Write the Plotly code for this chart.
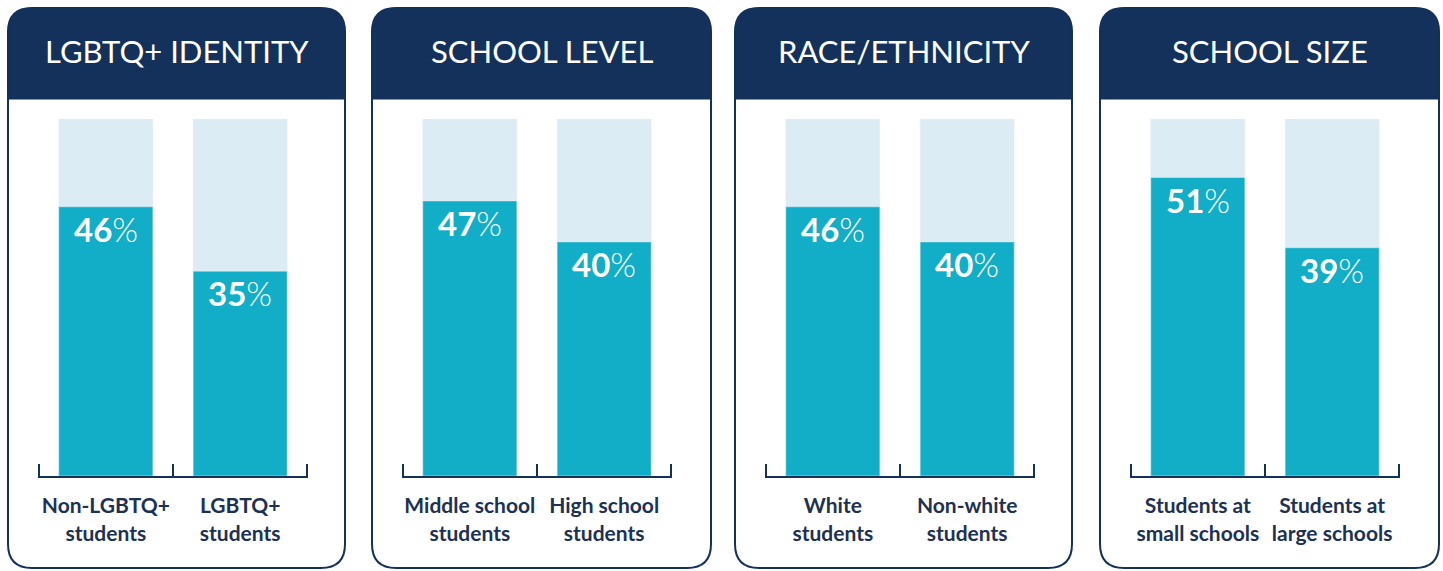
import plotly.graph_objects as go

W, H = 1443, 571

titles = ["LGBTQ+ IDENTITY", "SCHOOL LEVEL", "RACE/ETHNICITY", "SCHOOL SIZE"]
categories = [
    ["Non-LGBTQ+<br>students", "LGBTQ+<br>students"],
    ["Middle school<br>students", "High school<br>students"],
    ["White<br>students", "Non-white<br>students"],
    ["Students at<br>small schools", "Students at<br>large schools"],
]
values = [[46, 35], [47, 40], [46, 40], [51, 39]]
track_max = 61

NAVY = "#13315a"
LABEL = "#1d3152"
TEAL = "#12adc6"
TRACK = "#dcecf4"
FONT = "Lato"

# panel geometry in pixels (left, right), top/bottom shared
panel_x = [(8, 345), (372, 711), (735, 1072), (1100, 1439)]
panel_top, panel_bot, head_bot = 8, 568, 99
axis_bot, axis_top = 476, 119


def px(x):
    return x / W


def py(y):
    return 1 - y / H


def rounded_path(x0, x1, y0, y1, r, bottom=True):
    """Rounded rect path in paper coords (pixel input, y down)."""
    pts = []
    pts.append(f"M {px(x0 + r)},{py(y0)}")
    pts.append(f"L {px(x1 - r)},{py(y0)}")
    pts.append(f"Q {px(x1)},{py(y0)} {px(x1)},{py(y0 + r)}")
    if bottom:
        pts.append(f"L {px(x1)},{py(y1 - r)}")
        pts.append(f"Q {px(x1)},{py(y1)} {px(x1 - r)},{py(y1)}")
        pts.append(f"L {px(x0 + r)},{py(y1)}")
        pts.append(f"Q {px(x0)},{py(y1)} {px(x0)},{py(y1 - r)}")
    else:
        pts.append(f"L {px(x1)},{py(y1)}")
        pts.append(f"L {px(x0)},{py(y1)}")
    pts.append(f"L {px(x0)},{py(y0 + r)}")
    pts.append(f"Q {px(x0)},{py(y0)} {px(x0 + r)},{py(y0)}")
    return " ".join(pts) + " Z"


fig = go.Figure()
shapes, annotations = [], []

for i in range(4):
    n = i + 1
    xa = "x" if n == 1 else f"x{n}"
    ya = "y" if n == 1 else f"y{n}"
    x0, x1 = panel_x[i]
    pos = list(range(len(categories[i])))

    fig.add_trace(go.Bar(x=pos, y=[track_max] * len(pos), marker_color=TRACK,
                         width=0.7, xaxis=xa, yaxis=ya, hoverinfo="skip"))
    fig.add_trace(go.Bar(x=pos, y=values[i], marker_color=TEAL,
                         width=0.7, xaxis=xa, yaxis=ya))

    for p, v in zip(pos, values[i]):
        annotations.append(dict(
            x=p, y=v, xref=xa, yref=ya, yanchor="top", yshift=0,
            text=f"<b>{v}</b>%", showarrow=False,
            font=dict(family=FONT, size=33, color="white", weight=300)))

    shapes.append(dict(type="path", xref="paper", yref="paper",
                       path=rounded_path(x0, x1, panel_top, panel_bot, 24),
                       line=dict(color=NAVY, width=2), fillcolor="white", layer="below"))
    shapes.append(dict(type="path", xref="paper", yref="paper",
                       path=rounded_path(x0, x1, panel_top, head_bot, 24, bottom=False),
                       line=dict(color=NAVY, width=1), fillcolor=NAVY, layer="below"))
    annotations.append(dict(
        x=px((x0 + x1) / 2), y=py((panel_top + head_bot) / 2 - 2), xref="paper", yref="paper",
        text=titles[i], showarrow=False, xanchor="center", yanchor="middle",
        font=dict(family=FONT, size=31, color="white")))

    # category boundaries get the small upward ticks
    bounds = [p - 0.5 for p in pos] + [pos[-1] + 0.5]
    ax0 = x0 + 30
    fig.update_layout({
        f"xaxis{'' if n == 1 else n}": dict(
            domain=[px(ax0), px(ax0 + 270)], anchor=ya, range=[-0.505, 1.505],
            showline=True, linecolor=NAVY, linewidth=2, showgrid=False, zeroline=False,
            tickmode="array", tickvals=pos, ticktext=categories[i], ticks="",
            minor=dict(tickmode="array", tickvals=bounds, ticks="inside", ticklen=12,
                       tickwidth=2, tickcolor=NAVY, showgrid=False),
            ticklabelstandoff=10, tickangle=0,
            tickfont=dict(family=FONT, size=21, color=LABEL, weight=700),
            fixedrange=True),
        f"yaxis{'' if n == 1 else n}": dict(
            domain=[py(axis_bot), py(axis_top)], anchor=xa, range=[0, track_max],
            visible=False, fixedrange=True),
    })

fig.update_layout(
    width=W, height=H,
    margin=dict(l=0, r=0, t=0, b=0),
    barmode="overlay",
    showlegend=False,
    plot_bgcolor="rgba(0,0,0,0)",
    paper_bgcolor="white",
    shapes=shapes,
    annotations=annotations,
    font=dict(family=FONT),
)

# drop the default body margin so the figure fills the window exactly
fig.write_html("out.html", config={"displayModeBar": False},
               post_script="document.body.style.margin = '0';")
